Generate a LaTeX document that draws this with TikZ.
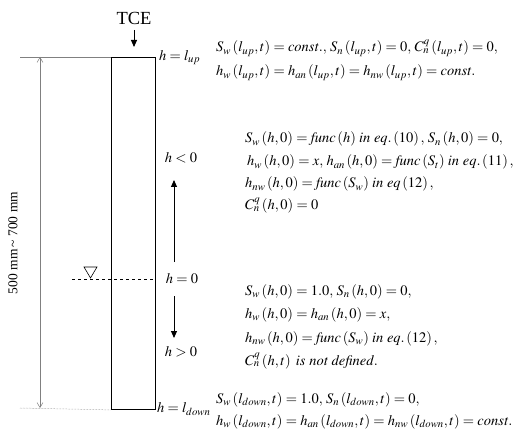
\documentclass[tikz,border=0pt]{standalone}
\usepackage{mathptmx}
\usepackage{fontspec}
\setmainfont{Liberation Serif}
\usetikzlibrary{arrows.meta}
\newcommand{\lp}{\left(}
\newcommand{\rp}{\right)}
\begin{document}
\begin{tikzpicture}[x=1pt,y=-1pt,
  eqn/.style={anchor=base west, inner sep=0pt, font=\fontsize{14.5}{16}\selectfont},
  hlab/.style={inner sep=0pt, font=\fontsize{14.5}{16}\selectfont},
  guide/.style={gray, line width=0.5pt},
  dimarrow/.style={gray, line width=0.5pt, {Straight Barb[open,length=5pt,width=6pt]}-{Straight Barb[open,length=5pt,width=6pt]}},
  flow/.style={line width=0.9pt, -{Triangle[length=7pt,width=6pt]}}]
\useasboundingbox (0,0) rectangle (520,433);
% column
\node[draw, line width=0.9pt, minimum width=44pt, minimum height=352pt, inner sep=0pt, anchor=north west] (col) at (111,57) {};
% TCE
\node[inner sep=0pt, font=\fontsize{18.5}{20}\selectfont] (tce) at (134,18) {TCE};
\coordinate (tcestart) at (134,30);
\coordinate (tcetip) at (134,47);
\draw[flow] (tcestart) -- (tcetip);
% guides
\coordinate (gtop) at (20,57);
\coordinate (gbot) at (20,408);
\draw[guide] (gtop) -- (col.north west);
\draw[guide, densely dotted] (gbot) -- (col.south west);
\coordinate (dtop) at (40,57);
\coordinate (dbot) at (40,408);
\draw[dimarrow] (dtop) -- (dbot);
\node[rotate=90, inner sep=0pt, font=\fontsize{13.5}{15}\selectfont] (dimlab) at (13,243) {500 mm\,\textasciitilde\ 700 mm};
% water table
\coordinate (wl) at (72,279);
\coordinate (wr) at (155,279);
\draw[dashed, line width=0.5pt] (wl) -- (wr);
\draw[line width=0.6pt] (84,267) -- (97,267) -- (90.5,278) -- cycle;
% h labels
\node[hlab, anchor=west] (hup) at (159,58) {$h=l_{up}$};
\node[hlab, anchor=west] (hdown) at (157,409) {$h=l_{down}$};
\node[hlab] (hneg) at (181,158) {$h<0$};
\node[hlab] (hzero) at (182,279) {$h=0$};
\node[hlab] (hpos) at (181,352) {$h>0$};
\coordinate (upstart) at (174,262);
\coordinate (uptip) at (174,180);
\coordinate (dnstart) at (174,296);
\coordinate (dntip) at (174,338);
\draw[flow] (upstart) -- (uptip);
\draw[flow] (dnstart) -- (dntip);
% equations top
\node[eqn] (e1) at (216,52) {$S_w\lp l_{up},t\rp=\mathit{const.},\,S_n\lp l_{up},t\rp=0,\,C_n^q\lp l_{up},t\rp=0,$};
\node[eqn] (e2) at (216,76) {$h_w\lp l_{up},t\rp=h_{an}\lp l_{up},t\rp=h_{nw}\lp l_{up},t\rp=\mathit{const.}$};
% middle
\node[eqn] (m1) at (245,143) {$S_w\lp h,0\rp=\mathit{func}\lp h\rp\,\mathit{in\ eq.}\lp 10\rp,\,S_n\lp h,0\rp=0,$};
\node[eqn] (m2) at (247,166) {$h_w\lp h,0\rp=x,\,h_{an}\lp h,0\rp=\mathit{func}\lp S_t\rp\,\mathit{in\ eq.}\lp 11\rp,$};
\node[eqn] (m3) at (245,188) {$h_{nw}\lp h,0\rp=\mathit{func}\lp S_w\rp\,\mathit{in\ eq}\lp 12\rp,$};
\node[eqn] (m4) at (245,210) {$C_n^q\lp h,0\rp=0$};
% lower
\node[eqn] (l1) at (245,295) {$S_w\lp h,0\rp=1.0,\,S_n\lp h,0\rp=0,$};
\node[eqn] (l2) at (245,318) {$h_w\lp h,0\rp=h_{an}\lp h,0\rp=x,$};
\node[eqn] (l3) at (245,342) {$h_{nw}\lp h,0\rp=\mathit{func}\lp S_w\rp\,\mathit{in\ eq.}\lp 12\rp,$};
\node[eqn] (l4) at (245,365) {$C_n^q\lp h,t\rp\ \mathit{is\ not\ defined.}$};
% bottom
\node[eqn] (b1) at (216,403) {$S_w\lp l_{down},t\rp=1.0,\,S_n\lp l_{down},t\rp=0,$};
\node[eqn] (b2) at (216,425) {$h_w\lp l_{down},t\rp=h_{an}\lp l_{down},t\rp=h_{nw}\lp l_{down},t\rp=\mathit{const.}$};
\end{tikzpicture}
\end{document}
